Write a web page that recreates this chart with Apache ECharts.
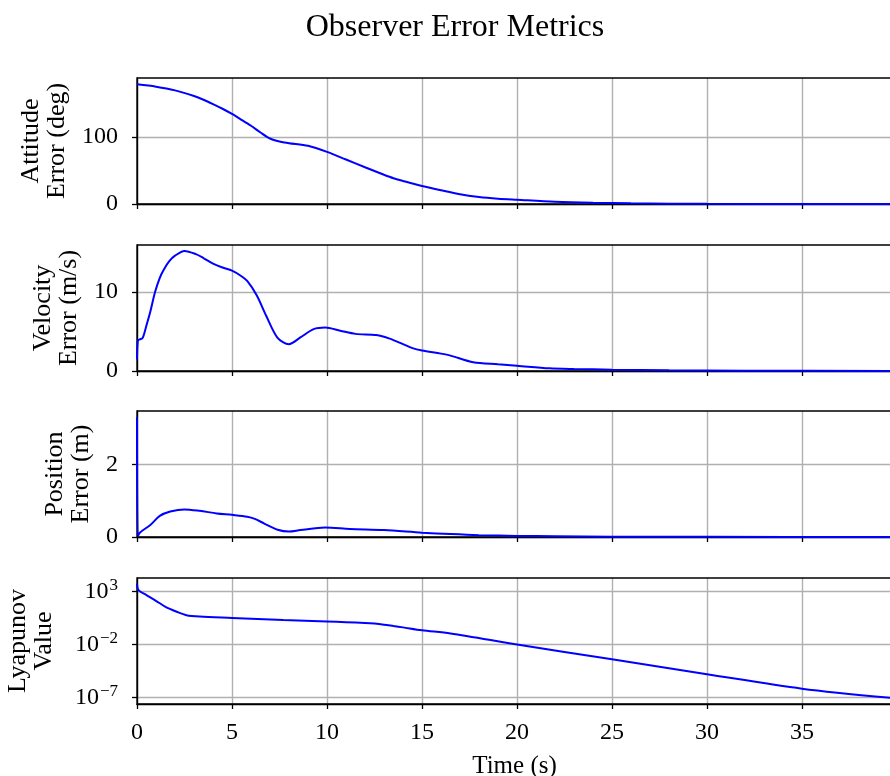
<!DOCTYPE html>
<html><head><meta charset="utf-8">
<script src="https://cdn.jsdelivr.net/npm/echarts@6/dist/echarts.min.js"></script>
<style>html,body{margin:0;padding:0;background:#fff}#c{width:890px;height:776px}</style>
</head><body><div id="c"></div>
<script>
const FONT = '"Liberation Serif", "DejaVu Serif", serif';
const titleText = 'Observer Error Metrics';
const xName = 'Time (s)';
const xTicks = [0, 5, 10, 15, 20, 25, 30, 35];

// Attitude error (deg)
const attT = [0, 1, 2, 3, 3.5, 4, 4.5, 5, 5.5, 6, 6.5, 7, 7.5, 8, 9, 10, 11, 12, 13, 13.5, 14, 15, 16, 17, 18, 19, 20, 22, 24, 26, 28, 30, 35, 39.7];
const attV = [179, 175.5, 170, 161.5, 156, 149.5, 142.5, 134.7, 126, 117, 107, 98, 93.5, 91, 87, 78, 66.5, 55, 43.7, 38.5, 34.5, 27, 20.5, 14.5, 10.5, 8, 6.4, 3.4, 1.8, 1.0, 0.5, 0.3, 0.1, 0.05];

// Velocity error (m/s)
const velT = [0, 0.05, 0.15, 0.3, 0.5, 0.7, 0.95, 1.2, 1.4, 1.7, 2.0, 2.5, 3.1, 3.5, 4.0, 4.5, 5.0, 5.5, 5.8, 6.3, 6.8, 7.4, 8.0, 8.6, 9.3, 9.9, 10.7, 11.5, 12.6, 13.3, 14.0, 14.5, 15.0, 16.0, 16.5, 17.7, 19, 20, 21.7, 23, 25, 28, 32, 39.7];
const velV = [1.5, 3.9, 4.0, 4.2, 5.8, 7.5, 10.0, 11.8, 12.8, 13.9, 14.6, 15.2, 14.8, 14.3, 13.6, 13.1, 12.7, 12.0, 11.4, 9.6, 7.0, 4.2, 3.4, 4.25, 5.3, 5.5, 5.1, 4.7, 4.55, 4.1, 3.4, 2.9, 2.6, 2.2, 1.95, 1.1, 0.85, 0.67, 0.34, 0.25, 0.17, 0.08, 0.03, 0.01];

// Position error (m)
const posT = [0, 0.04, 0.15, 0.7, 1.2, 1.75, 2.5, 3.3, 4.2, 5.0, 5.8, 6.2, 6.7, 7.4, 8.0, 8.6, 9.9, 11.2, 13.0, 15.0, 16.5, 18, 20, 22, 25, 30, 39.7];
const posV = [3.3, 0.02, 0.12, 0.33, 0.58, 0.70, 0.76, 0.72, 0.65, 0.61, 0.56, 0.50, 0.37, 0.20, 0.15, 0.19, 0.26, 0.22, 0.19, 0.12, 0.08, 0.05, 0.03, 0.02, 0.01, 0.005, 0.002];

// Lyapunov value (log scale)
const lyaT = [0, 0.08, 0.5, 1.0, 1.5, 2.1, 2.6, 3.3, 5, 7.7, 10, 11, 12, 12.5, 13, 13.5, 14, 15, 16.5, 20, 25, 30, 35, 39.7];
const lyaV = [5200, 1300, 450, 130, 35, 12, 5.8, 4.3, 3.2, 2.0, 1.45, 1.26, 1.07, 0.93, 0.74, 0.55, 0.41, 0.22, 0.11, 0.0102, 4e-4, 1.6e-5, 7e-7, 9.3e-8];

const panelNames = ['Attitude\nError (deg)', 'Velocity\nError (m/s)', 'Position\nError (m)', 'Lyapunov\nValue'];
const yMins = [0, 0, 0, -7.6];
const yMaxs = [188.5, 15.95, 3.47, 4.26];
const yTicks = [[0, 100], [0, 10], [0, 2], [-7, -2, 3]];
const nameGaps = [67, 55, 43, 80];

const X_MAX = 39.74;
const tops = [78, 245, 411, 578];
const H = 126;

function zip(t, v) { return t.map((x, i) => [x, v[i]]); }
const seriesData = [
  zip(attT, attV),
  zip(velT, velV),
  zip(posT, posV),
  zip(lyaT, lyaV.map(v => Math.log10(v)))
];

const grids = [], xAxes = [], yAxes = [], series = [];
for (let i = 0; i < 4; i++) {
  grids.push({ left: 137, top: tops[i], width: 755, height: H, show: true, z: 1, borderColor: '#000', borderWidth: 1.3, backgroundColor: 'transparent', containLabel: false, outerBoundsMode: 'none' });
  xAxes.push({
    type: 'value', gridIndex: i, min: 0, max: X_MAX,
    axisLine: { show: true, onZero: false, lineStyle: { color: '#000', width: 1.3 } },
    axisTick: { show: true, inside: false, length: 5, lineStyle: { color: '#000', width: 1.3 }, customValues: xTicks },
    axisLabel: { show: i === 3, customValues: xTicks, fontSize: 24, color: '#000', fontFamily: FONT, margin: 17 },
    splitLine: { show: true, lineStyle: { color: '#b0b0b0', width: 1.4 } },
    name: i === 3 ? xName : '', nameLocation: 'middle', nameGap: 50,
    nameTextStyle: { fontSize: 25, color: '#000', fontFamily: FONT }
  });
  const isLog = i === 3;
  yAxes.push({
    type: 'value', gridIndex: i, min: yMins[i], max: yMaxs[i],
    axisLine: { show: true, onZero: false, lineStyle: { color: '#000', width: 1.3 } },
    axisTick: { show: true, inside: false, length: 5, lineStyle: { color: '#000', width: 1.3 }, customValues: yTicks[i] },
    axisLabel: {
      customValues: yTicks[i], fontSize: 24, color: '#000', fontFamily: FONT, margin: 19,
      formatter: isLog ? (v => '{b|10}{s|' + (v < 0 ? '\u2212' : '') + Math.abs(v) + '}') : (v => String(v)),
      rich: isLog ? {
        b: { fontSize: 24, fontFamily: FONT, color: '#000' },
        s: { fontSize: 17, fontFamily: FONT, color: '#000', padding: [0, 0, 12, 1] }
      } : undefined
    },
    splitLine: { show: true, lineStyle: { color: '#b0b0b0', width: 1.4 } },
    name: panelNames[i], nameLocation: 'middle', nameRotate: 90, nameGap: nameGaps[i],
    nameTextStyle: { fontSize: 26, lineHeight: 26, color: '#000', fontFamily: FONT, align: 'center' }
  });
  series.push({
    type: 'line', xAxisIndex: i, yAxisIndex: i, data: seriesData[i], z: 3,
    showSymbol: false, smooth: 0.3, lineStyle: { color: '#0000ff', width: 2 }, itemStyle: { color: '#0000ff' }
  });
}

const chart = echarts.init(document.getElementById('c'), null, { renderer: 'canvas' });
chart.setOption({
  animation: false,
  backgroundColor: '#fff',
  title: { text: titleText, left: 450, top: 7, textAlign: 'center', textStyle: { fontSize: 32, fontWeight: 'normal', color: '#000', fontFamily: FONT } },
  grid: grids, xAxis: xAxes, yAxis: yAxes, series: series
});
</script></body></html>
